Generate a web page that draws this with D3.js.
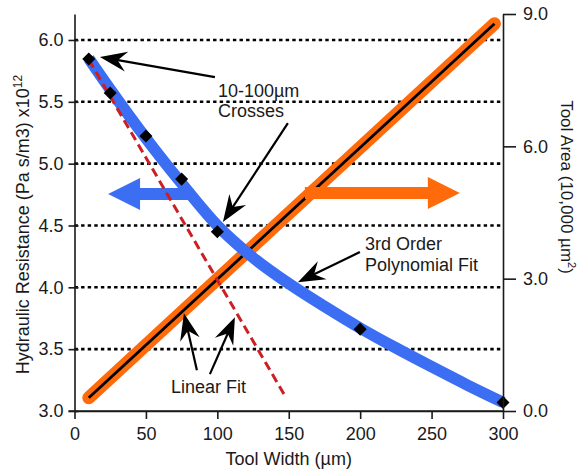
<!DOCTYPE html>
<html><head><meta charset="utf-8">
<script src="https://cdn.jsdelivr.net/npm/d3@7"></script>
<style>body{margin:0;background:#fff}svg{display:block}</style>
</head><body><svg id="c" width="580" height="475"></svg>
<script>
// ---- data ----
const widths = [10, 25, 50, 75, 100, 200, 300];
const resistance = [5.846, 5.571, 5.223, 4.875, 4.449, 3.662, 3.069];
const polyFitX = [10, 25, 50, 75, 100, 125, 150, 175, 200, 225, 250, 275, 300];
const polyFitY = [5.85, 5.60, 5.205, 4.84, 4.50, 4.24, 4.03, 3.845, 3.67, 3.51, 3.358, 3.21, 3.07];
const linearFitX = [10, 148];
const linearFitY = [5.84, 3.11];
const areaX = [10, 294];
const areaY = [0.30, 8.78];
const xTicks = [0, 50, 100, 150, 200, 250, 300];
const leftTicks = [3.0, 3.5, 4.0, 4.5, 5.0, 5.5, 6.0];
const rightTicks = [0, 3, 6, 9];
const gridValues = [3.5, 4.0, 4.5, 5.0, 5.5, 6.0];
const xTitle = "Tool Width (\u00b5m)";
const leftTitle = "Hydraulic Resistance (Pa s/m3) x10";
const rightTitle = "Tool Area (10,000 \u00b5m";
// annotations in data units (x: width, y: left axis)
const annotArrows = [
  {x1: 98.3, y1: 5.70, x2: 17.8, y2: 5.862},
  {x1: 149.4, y1: 5.328, x2: 103.9, y2: 4.528},
  {x1: 199.8, y1: 4.285, x2: 156.4, y2: 4.042},
  {x1: 85.7, y1: 3.330, x2: 76.6, y2: 3.791},
  {x1: 94.8, y1: 3.298, x2: 112.3, y2: 3.759}
];
const annotTexts = [
  {x: 100.4, y: 5.539, t: "10-100\u00b5m"},
  {x: 100.4, y: 5.377, t: "Crosses"},
  {x: 203.3, y: 4.301, t: "3rd Order"},
  {x: 203.3, y: 4.131, t: "Polynomial Fit"},
  {x: 67.5, y: 3.144, t: "Linear Fit"}
];
const blueArrow = {tail: 79.5, tip: 23.5, y: 4.754};
const orangeArrow = {tail: 161.3, tip: 269.8, y: 4.762};

// ---- scales ----
const x = d3.scaleLinear().domain([0, 300]).range([74.5, 503]);
const yL = d3.scaleLinear().domain([3.0, 6.21]).range([411, 14]);
const yR = d3.scaleLinear().domain([0, 9]).range([411, 14]);

const svg = d3.select("#c");
const font = "'Liberation Sans', Arial, Helvetica, sans-serif";
const BLUE = "#3b6ef2", ORANGE = "#ff6a0a", RED = "#cc1f24";

// grid
svg.append("g").selectAll("line").data(gridValues).join("line")
  .attr("x1", x(0)).attr("x2", x(300))
  .attr("y1", d => yL(d)).attr("y2", d => yL(d))
  .attr("stroke", "#000").attr("stroke-width", 2.6)
  .attr("stroke-dasharray", "3.4,3.2");

// orange tool area line
const areaPts = areaX.map((v, i) => [x(v), yR(areaY[i])]);
const ln = d3.line();
svg.append("path").attr("d", ln(areaPts)).attr("fill", "none")
  .attr("stroke", ORANGE).attr("stroke-width", 13).attr("stroke-linecap", "round");
svg.append("path").attr("d", ln(areaPts)).attr("fill", "none")
  .attr("stroke", "#000").attr("stroke-width", 2.8);

// block arrows
function blockArrow(tailPx, tipPx, yPx, col) {
  const dir = Math.sign(tipPx - tailPx);
  const back = tipPx - dir * 32;
  const pts = [[tailPx, yPx - 6], [back, yPx - 6], [back, yPx - 16], [tipPx, yPx],
               [back, yPx + 16], [back, yPx + 6], [tailPx, yPx + 6]];
  svg.append("path").attr("d", d3.line()(pts) + "Z").attr("fill", col);
}
blockArrow(x(blueArrow.tail), x(blueArrow.tip), yL(blueArrow.y), BLUE);
blockArrow(x(orangeArrow.tail), x(orangeArrow.tip), yL(orangeArrow.y), ORANGE);

// blue polynomial fit
const polyPts = polyFitX.map((v, i) => [x(v), yL(polyFitY[i])]);
svg.append("path").attr("d", d3.line().curve(d3.curveMonotoneX)(polyPts))
  .attr("fill", "none").attr("stroke", BLUE).attr("stroke-width", 11.5);

// red linear fit
svg.append("path").attr("d", ln(linearFitX.map((v, i) => [x(v), yL(linearFitY[i])])))
  .attr("fill", "none").attr("stroke", RED).attr("stroke-width", 3)
  .attr("stroke-dasharray", "9,5");

// diamonds
svg.append("g").selectAll("path").data(widths).join("path")
  .attr("d", d3.symbol().type(d3.symbolSquare).size(85))
  .attr("transform", (d, i) => `translate(${x(d)},${yL(resistance[i])}) rotate(45)`)
  .attr("fill", "#000");

// axes
const tickFont = g => g.selectAll("text").attr("font-family", font).attr("font-size", 18).attr("fill", "#1a1a1a");
const gL = svg.append("g").attr("transform", `translate(${x(0)},0)`)
  .call(d3.axisLeft(yL).tickValues(leftTicks).tickFormat(d3.format(".1f")).tickSize(6).tickSizeOuter(0).tickPadding(5));
gL.selectAll(".tick line").attr("x2", -6).attr("x1", 4);
const gB = svg.append("g").attr("transform", `translate(0,${yL(3.0)})`)
  .call(d3.axisBottom(x).tickValues(xTicks).tickFormat(d3.format("d")).tickSize(8).tickSizeOuter(0).tickPadding(8));
const gR = svg.append("g").attr("transform", `translate(${x(300)},0)`)
  .call(d3.axisRight(yR).tickValues(rightTicks).tickFormat(d3.format(".1f")).tickSize(13).tickSizeOuter(0).tickPadding(7));
[gL, gB, gR].forEach(g => {
  tickFont(g);
  g.selectAll("path.domain, .tick line").attr("stroke", "#1a1a1a").attr("stroke-width", 1.6);
});
svg.append("line").attr("x1", x(0) - 6).attr("x2", x(300)).attr("y1", yL(3.0)).attr("y2", yL(3.0))
  .attr("stroke", "#1a1a1a").attr("stroke-width", 1.6);

// axis titles
svg.append("text").attr("x", (x(0) + x(300)) / 2).attr("y", 465).attr("text-anchor", "middle")
  .attr("font-family", font).attr("font-size", 18).attr("fill", "#1a1a1a").text(xTitle);
const lt = svg.append("text").attr("transform", `translate(29,${(yL.range()[0] + yL.range()[1]) / 2 + 12}) rotate(-90)`)
  .attr("text-anchor", "middle").attr("font-family", font).attr("font-size", 18).attr("fill", "#1a1a1a");
lt.append("tspan").text(leftTitle);
lt.append("tspan").attr("font-size", 12).attr("dy", -7).text("12");
const rt = svg.append("text").attr("transform", `translate(561,187) rotate(90)`)
  .attr("text-anchor", "middle").attr("font-family", font).attr("font-size", 17).attr("fill", "#1a1a1a");
rt.append("tspan").text(rightTitle);
rt.append("tspan").attr("font-size", 11).attr("dy", -7).text("2");
rt.append("tspan").attr("dy", 7).text(")");

// annotation arrows
annotArrows.forEach(a => {
  const x1 = x(a.x1), y1 = yL(a.y1), x2 = x(a.x2), y2 = yL(a.y2);
  const ang = Math.atan2(y2 - y1, x2 - x1);
  const ex = x2 - Math.cos(ang) * 14, ey = y2 - Math.sin(ang) * 14;
  svg.append("line").attr("x1", x1).attr("y1", y1).attr("x2", ex).attr("y2", ey)
    .attr("stroke", "#000").attr("stroke-width", 2.2);
  svg.append("path").attr("d", "M0,0 L-27,-10 L-18,0 L-27,10 Z").attr("fill", "#000")
    .attr("transform", `translate(${x2},${y2}) rotate(${ang * 180 / Math.PI})`);
});
svg.append("g").selectAll("text").data(annotTexts).join("text")
  .attr("x", d => x(d.x)).attr("y", d => yL(d.y))
  .attr("font-family", font).attr("font-size", 18).attr("fill", "#1a1a1a").text(d => d.t);
</script></body></html>
